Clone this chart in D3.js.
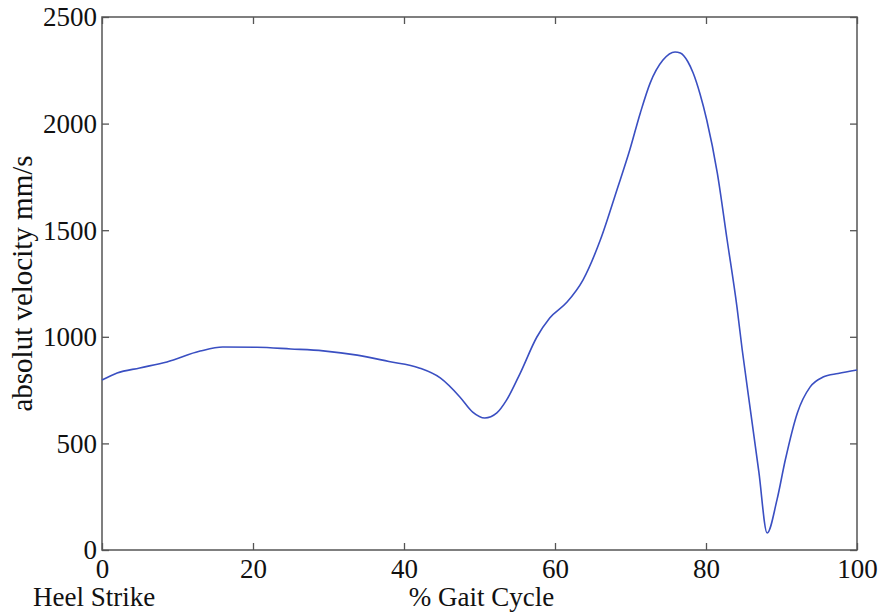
<!DOCTYPE html>
<html>
<head>
<meta charset="utf-8">
<script src="https://cdn.jsdelivr.net/npm/d3@7"></script>
<style>
  body { margin: 0; background: #fff; }
  text { font-family: "Liberation Serif", "Times New Roman", serif; fill: #111; }
</style>
</head>
<body>
<div id="chart"></div>
<script>
// gait cycle percent and absolute velocity
const gaitPct = [0, 2, 5, 8.6, 13, 16, 20.5, 25, 29.3, 33.8, 38, 42, 44.8, 47.4, 49.1, 50.7,
  52.3, 53.6, 55.4, 57.6, 59.3, 61.6, 63.7, 66, 68.2, 69.9, 71.3, 72.6, 74.3, 75.9, 76.6, 77.6,
  78.3, 79.2, 80.1, 81.5, 82.8, 84.1, 84.8, 86, 87, 88.1, 89.4, 90.5, 92.1, 93.8, 95.5, 97.5, 100];
const velocity = [797, 830, 854, 882, 933, 952, 951, 943, 934, 914, 884, 854, 807, 718, 647, 619,
  643, 704, 830, 999, 1088, 1163, 1266, 1454, 1689, 1876, 2050, 2190, 2298, 2336, 2331, 2290,
  2237, 2140, 2017, 1768, 1454, 1140, 938, 626, 366, 80, 235, 422, 643, 765, 811, 828, 844];
const xTicks = [0, 20, 40, 60, 80, 100];
const yTicks = [0, 500, 1000, 1500, 2000, 2500];

const width = 880, height = 613,
  margin = {top: 17, right: 23, bottom: 63, left: 102};

const data = gaitPct.map((p, i) => ({p: p, v: velocity[i]}));

const svg = d3.select("#chart").append("svg")
  .attr("width", width).attr("height", height);

const x = d3.scaleLinear().domain([0, 100]).range([margin.left, width - margin.right]);
const y = d3.scaleLinear().domain([0, 2500]).range([height - margin.bottom, margin.top]);

const axisColor = "#555";
const fmt = d3.format("d");

function styleAxis(g) {
  g.select(".domain").remove();
  g.selectAll(".tick line").attr("stroke", axisColor).attr("stroke-width", 1.3);
  g.selectAll("text").style("font-size", "27px").attr("fill", "#111")
    .attr("font-family", "Liberation Serif");
}

// left
svg.append("g")
  .attr("transform", `translate(${margin.left},0)`)
  .call(d3.axisLeft(y).tickValues(yTicks).tickFormat(fmt).tickSizeInner(-7).tickSizeOuter(0).tickPadding(5))
  .call(styleAxis)
  .call(g => g.selectAll("text").attr("dy", "0.33em"));

// bottom
svg.append("g")
  .attr("transform", `translate(0,${height - margin.bottom})`)
  .call(d3.axisBottom(x).tickValues(xTicks).tickFormat(fmt).tickSizeInner(-7).tickSizeOuter(0).tickPadding(9))
  .call(styleAxis);

// right and top: ticks only
svg.append("g")
  .attr("transform", `translate(${width - margin.right},0)`)
  .call(d3.axisRight(y).tickValues(yTicks).tickSizeInner(-7).tickSizeOuter(0).tickFormat(""))
  .call(styleAxis);
svg.append("g")
  .attr("transform", `translate(0,${margin.top})`)
  .call(d3.axisTop(x).tickValues(xTicks).tickSizeInner(-7).tickSizeOuter(0).tickFormat(""))
  .call(styleAxis);

// frame
svg.append("rect")
  .attr("x", x(0)).attr("y", y(2500))
  .attr("width", x(100) - x(0)).attr("height", y(0) - y(2500))
  .attr("fill", "none").attr("stroke", axisColor).attr("stroke-width", 1.5);

const line = d3.line()
  .x(d => x(d.p))
  .y(d => y(d.v))
  .curve(d3.curveMonotoneX);

svg.append("path")
  .datum(data)
  .attr("d", line)
  .attr("fill", "none")
  .attr("stroke", "#3a4fc2")
  .attr("stroke-width", 1.6);

// labels
svg.append("text")
  .attr("transform", `translate(32,${(y(0) + y(2500)) / 2}) rotate(-90)`)
  .attr("text-anchor", "middle")
  .style("font-size", "29px")
  .text("absolut velocity mm/s");

svg.append("text")
  .attr("x", (x(0) + x(100)) / 2 + 2)
  .attr("y", 606)
  .attr("text-anchor", "middle")
  .style("font-size", "27px")
  .text("% Gait Cycle");

svg.append("text")
  .attr("x", 33)
  .attr("y", 606)
  .style("font-size", "27px")
  .text("Heel Strike");
</script>
</body>
</html>
